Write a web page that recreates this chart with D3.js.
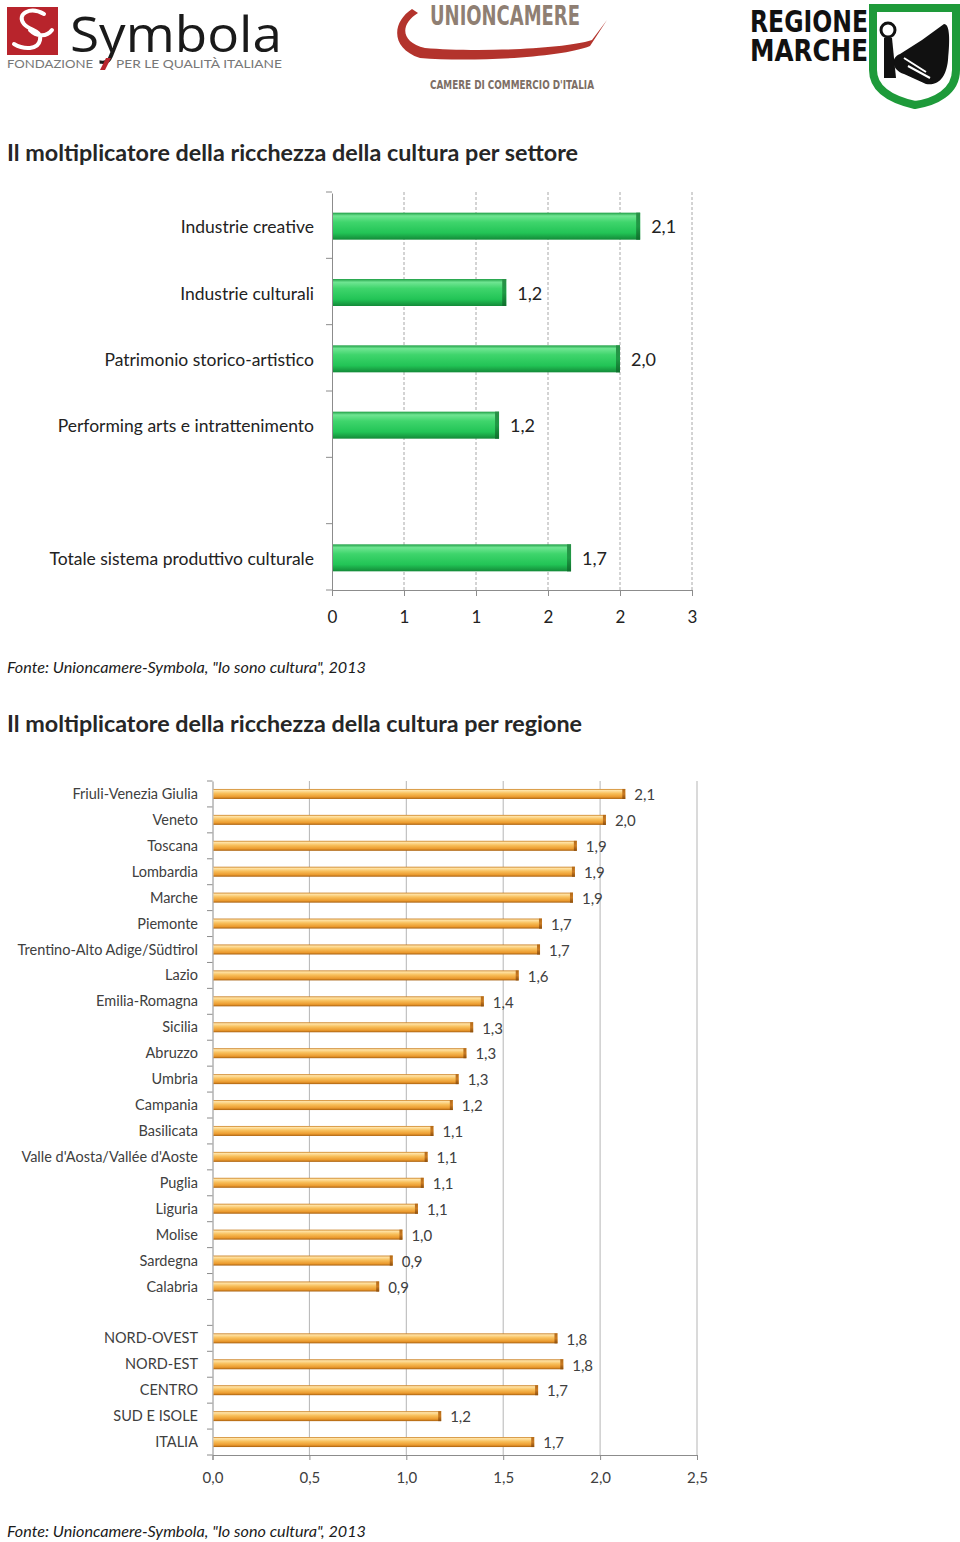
<!DOCTYPE html>
<html><head><meta charset="utf-8">
<script src="https://cdn.jsdelivr.net/npm/d3@7"></script>
<style>
html,body{margin:0;padding:0;background:#fff;}
svg{display:block;font-family:Lato,"Open Sans",sans-serif;}
</style></head>
<body>
<svg id="c" width="960" height="1542"></svg>
<script>
// ---------- DATA ----------
const title1 = "Il moltiplicatore della ricchezza della cultura per settore";
const title2 = "Il moltiplicatore della ricchezza della cultura per regione";
const source = "Fonte: Unioncamere-Symbola, \"Io sono cultura\", 2013";

const sectors = ["Industrie creative","Industrie culturali","Patrimonio storico-artistico","Performing arts e intrattenimento","","Totale sistema produttivo culturale"];
const sectorValues = [2.14, 1.21, 2.0, 1.16, null, 1.66];
const sectorTicks = [0, 0.5, 1, 1.5, 2, 2.5];
const sectorTickLabels = ["0","1","1","2","2","3"];

const regions = ["Friuli-Venezia Giulia","Veneto","Toscana","Lombardia","Marche","Piemonte","Trentino-Alto Adige/Südtirol","Lazio","Emilia-Romagna","Sicilia","Abruzzo","Umbria","Campania","Basilicata","Valle d'Aosta/Vallée d'Aoste","Puglia","Liguria","Molise","Sardegna","Calabria","","NORD-OVEST","NORD-EST","CENTRO","SUD E ISOLE","ITALIA"];
const regionValues = [2.13, 2.03, 1.88, 1.87, 1.86, 1.70, 1.69, 1.58, 1.40, 1.345, 1.31, 1.27, 1.24, 1.14, 1.11, 1.09, 1.06, 0.98, 0.93, 0.86, null, 1.78, 1.81, 1.68, 1.18, 1.66];
const regionTicks = [0, 0.5, 1, 1.5, 2, 2.5];
const regionTickLabels = ["0,0","0,5","1,0","1,5","2,0","2,5"];

// ---------- SETUP ----------
const svg = d3.select("#c");
const fmt = v => d3.format(".1f")(v).replace(".", ",");
const defs = svg.append("defs");

function grad(id, stops){
  const g = defs.append("linearGradient").attr("id", id).attr("x1",0).attr("y1",0).attr("x2",0).attr("y2",1);
  stops.forEach(s => g.append("stop").attr("offset", s[0]).attr("stop-color", s[1]));
}
grad("gGreen", [[0,"#1f9e45"],[0.12,"#6fe592"],[0.35,"#3fd56c"],[0.75,"#22c456"],[1,"#138a38"]]);
grad("gGreenEnd", [[0,"#2a8f47"],[0.5,"#1e9a44"],[1,"#0f6e2c"]]);
grad("gOrange", [[0,"#c77a1c"],[0.15,"#ffe3a6"],[0.45,"#f8bf5a"],[0.8,"#eb9a2e"],[1,"#a8600f"]]);
grad("gOrangeEnd", [[0,"#b46a18"],[0.5,"#c97a22"],[1,"#8c4e0c"]]);

// ---------- LOGOS ----------
const logo = svg.append("g");
// Symbola
logo.append("rect").attr("x",7).attr("y",7).attr("width",51).attr("height",48).attr("fill","#b8242c");
logo.append("path").attr("d","M44,14 C30,6 16,14 24,24 C30,31 42,30 40,40 C38,50 24,50 14,44 M30,30 C36,36 46,38 52,30")
  .attr("fill","none").attr("stroke","#fff").attr("stroke-width",4).attr("stroke-linecap","round");
logo.append("text").attr("x",70).attr("y",52).attr("font-size",50).attr("fill","#1a1a1a")
  .attr("font-family","'Open Sans',sans-serif").attr("textLength",212).attr("lengthAdjust","spacingAndGlyphs").text("Symbola");
logo.append("text").attr("x",7).attr("y",68).attr("font-size",11).attr("fill","#777")
  .attr("textLength",86).attr("lengthAdjust","spacingAndGlyphs").text("FONDAZIONE");
logo.append("path").attr("d","M100,70 L105,70 L111,58 L106,58 Z").attr("fill","#b8242c");
logo.append("text").attr("x",116).attr("y",68).attr("font-size",11).attr("fill","#777")
  .attr("textLength",166).attr("lengthAdjust","spacingAndGlyphs").text("PER LE QUALITÀ ITALIANE");
// Unioncamere
logo.append("text").attr("x",430).attr("y",25).attr("font-size",26).attr("font-weight","bold").attr("fill","#8f7f73")
  .attr("font-family","'Liberation Sans Narrow','DejaVu Sans Condensed',sans-serif")
  .attr("textLength",150).attr("lengthAdjust","spacingAndGlyphs").text("UNIONCAMERE");
logo.append("path").attr("d","M412,9 C392,22 390,48 420,58 C470,62 560,58 590,46 L607,20 L592,40 C560,50 470,52 425,48 C400,42 400,24 418,13 Z")
  .attr("fill","#b3332c");
logo.append("text").attr("x",430).attr("y",89).attr("font-size",12).attr("font-weight","bold").attr("fill","#7d6e65")
  .attr("font-family","'Liberation Sans Narrow','DejaVu Sans Condensed',sans-serif")
  .attr("textLength",164).attr("lengthAdjust","spacingAndGlyphs").text("CAMERE DI COMMERCIO D'ITALIA");
// Regione Marche
logo.append("text").attr("x",750).attr("y",32).attr("font-size",31).attr("font-weight","bold").attr("fill","#111")
  .attr("font-family","'Liberation Sans Narrow','DejaVu Sans Condensed',sans-serif")
  .attr("textLength",118).attr("lengthAdjust","spacingAndGlyphs").text("REGIONE");
logo.append("text").attr("x",750).attr("y",61).attr("font-size",31).attr("font-weight","bold").attr("fill","#111")
  .attr("font-family","'Liberation Sans Narrow','DejaVu Sans Condensed',sans-serif")
  .attr("textLength",118).attr("lengthAdjust","spacingAndGlyphs").text("MARCHE");
logo.append("path").attr("d","M873,8 L956,8 L956,70 C956,92 935,102 915,105 C893,100 873,90 873,70 Z")
  .attr("fill","#fff").attr("stroke","#1e9a3a").attr("stroke-width",8);
logo.append("circle").attr("cx",888).attr("cy",30).attr("r",7).attr("fill","none").attr("stroke","#111").attr("stroke-width",3);
logo.append("path").attr("d","M922,40 L944,24 C950,24 950,40 948,60 C946,80 936,86 926,84 L904,74 C892,70 890,58 900,54 Z")
  .attr("fill","#111");
logo.append("path").attr("d","M884,38 L892,38 L896,78 L884,78 Z").attr("fill","#111");
logo.append("path").attr("d","M904,58 L926,72 M908,66 L930,78").attr("stroke","#fff").attr("stroke-width",2);

// ---------- TITLES ----------
svg.append("text").attr("x",7).attr("y",161).attr("font-size",22).attr("font-weight","bold").attr("fill","#262626")
  .attr("textLength",571).attr("lengthAdjust","spacingAndGlyphs").text(title1);
svg.append("text").attr("x",7).attr("y",732).attr("font-size",22).attr("font-weight","bold").attr("fill","#262626")
  .attr("textLength",575).attr("lengthAdjust","spacingAndGlyphs").text(title2);
svg.append("text").attr("x",7).attr("y",673).attr("font-size",15).attr("font-style","italic").attr("fill","#1a1a1a")
  .attr("textLength",359).attr("lengthAdjust","spacingAndGlyphs").text(source);
svg.append("text").attr("x",7).attr("y",1537).attr("font-size",15).attr("font-style","italic").attr("fill","#1a1a1a")
  .attr("textLength",359).attr("lengthAdjust","spacingAndGlyphs").text(source);

// ---------- CHART 1 ----------
(function(){
  const x = d3.scaleLinear().domain([0,2.5]).range([332,692]);
  const y = d3.scaleBand().domain(sectors.map((d,i)=>i)).range([193,591]);
  const g = svg.append("g");
  const barH = 27;
  g.selectAll("line.grid").data(sectorTicks.slice(1)).join("line")
    .attr("x1",d=>x(d)).attr("x2",d=>x(d)).attr("y1",192).attr("y2",590)
    .attr("stroke","#a8a8a8").attr("stroke-dasharray","3,2").attr("stroke-width",1);
  const xa = g.append("g").attr("transform","translate(0,590)")
    .call(d3.axisBottom(x).tickValues(sectorTicks).tickFormat((d,i)=>sectorTickLabels[i]).tickSize(6).tickPadding(15));
  xa.select(".domain").attr("stroke","#8c8c8c");
  xa.selectAll(".tick line").attr("stroke","#8c8c8c");
  xa.selectAll("text").attr("font-size",17).attr("fill","#222").attr("font-family","Lato,sans-serif");
  const ya = g.append("g").attr("transform","translate(332,0)")
    .call(d3.axisLeft(y).tickSize(0).tickFormat(""));
  ya.select(".domain").attr("stroke","#8c8c8c");
  const bounds = d3.range(sectors.length+1).map(i=>192 + i*y.step());
  g.selectAll("line.yt").data(bounds).join("line")
    .attr("x1",326).attr("x2",332).attr("y1",d=>d).attr("y2",d=>d).attr("stroke","#8c8c8c");
  g.selectAll("text.cat").data(sectors).join("text")
    .attr("x",314).attr("y",(d,i)=>y(i)+y.bandwidth()/2+1).attr("dy","0.35em")
    .attr("text-anchor","end").attr("font-size",17.5).attr("fill","#222").text(d=>d);
  const data = sectorValues.map((v,i)=>({v,i})).filter(d=>d.v!==null);
  g.selectAll("rect.bar").data(data).join("rect")
    .attr("x",x(0)+1).attr("y",d=>y(d.i)+(y.bandwidth()-barH)/2)
    .attr("width",d=>x(d.v)-x(0)-1).attr("height",barH).attr("fill","url(#gGreen)");
  g.selectAll("rect.end").data(data).join("rect")
    .attr("x",d=>x(d.v)-4).attr("y",d=>y(d.i)+(y.bandwidth()-barH)/2)
    .attr("width",4).attr("height",barH).attr("fill","url(#gGreenEnd)");
  g.selectAll("text.val").data(data).join("text")
    .attr("x",d=>x(d.v)+11).attr("y",d=>y(d.i)+y.bandwidth()/2+1).attr("dy","0.35em")
    .attr("font-size",18).attr("fill","#222").text(d=>fmt(d.v));
})();

// ---------- CHART 2 ----------
(function(){
  const x = d3.scaleLinear().domain([0,2.5]).range([212.5,697]);
  const y = d3.scaleBand().domain(regions.map((d,i)=>i)).range([781,1455]);
  const g = svg.append("g");
  const barH = 10;
  g.selectAll("line.grid").data(regionTicks.slice(1)).join("line")
    .attr("x1",d=>x(d)).attr("x2",d=>x(d)).attr("y1",781).attr("y2",1455)
    .attr("stroke","#b5b5b5").attr("stroke-width",1);
  const xa = g.append("g").attr("transform","translate(0,1455)")
    .call(d3.axisBottom(x).tickValues(regionTicks).tickFormat((d,i)=>regionTickLabels[i]).tickSize(5).tickPadding(12));
  xa.select(".domain").attr("stroke","#8c8c8c");
  xa.selectAll(".tick line").attr("stroke","#8c8c8c");
  xa.selectAll("text").attr("font-size",15).attr("fill","#404040").attr("font-family","Lato,sans-serif");
  const ya = g.append("g").attr("transform","translate(212.5,0)")
    .call(d3.axisLeft(y).tickSize(0).tickFormat(""));
  ya.select(".domain").attr("stroke","#8c8c8c");
  const bounds = d3.range(regions.length+1).map(i=>781 + i*y.step());
  g.selectAll("line.yt").data(bounds).join("line")
    .attr("x1",207).attr("x2",212.5).attr("y1",d=>d).attr("y2",d=>d).attr("stroke","#8c8c8c");
  g.selectAll("text.cat").data(regions).join("text")
    .attr("x",198).attr("y",(d,i)=>y(i)+y.bandwidth()/2).attr("dy","0.35em")
    .attr("text-anchor","end").attr("font-size",14.5).attr("fill","#404040").text(d=>d);
  const data = regionValues.map((v,i)=>({v,i})).filter(d=>d.v!==null);
  g.selectAll("rect.bar").data(data).join("rect")
    .attr("x",x(0)+1).attr("y",d=>y(d.i)+(y.bandwidth()-barH)/2)
    .attr("width",d=>x(d.v)-x(0)-1).attr("height",barH).attr("fill","url(#gOrange)");
  g.selectAll("rect.end").data(data).join("rect")
    .attr("x",d=>x(d.v)-3).attr("y",d=>y(d.i)+(y.bandwidth()-barH)/2)
    .attr("width",3).attr("height",barH).attr("fill","url(#gOrangeEnd)");
  g.selectAll("text.val").data(data).join("text")
    .attr("x",d=>x(d.v)+9).attr("y",d=>y(d.i)+y.bandwidth()/2+1).attr("dy","0.35em")
    .attr("font-size",15).attr("fill","#404040").text(d=>fmt(d.v));
})();
</script>
</body></html>
